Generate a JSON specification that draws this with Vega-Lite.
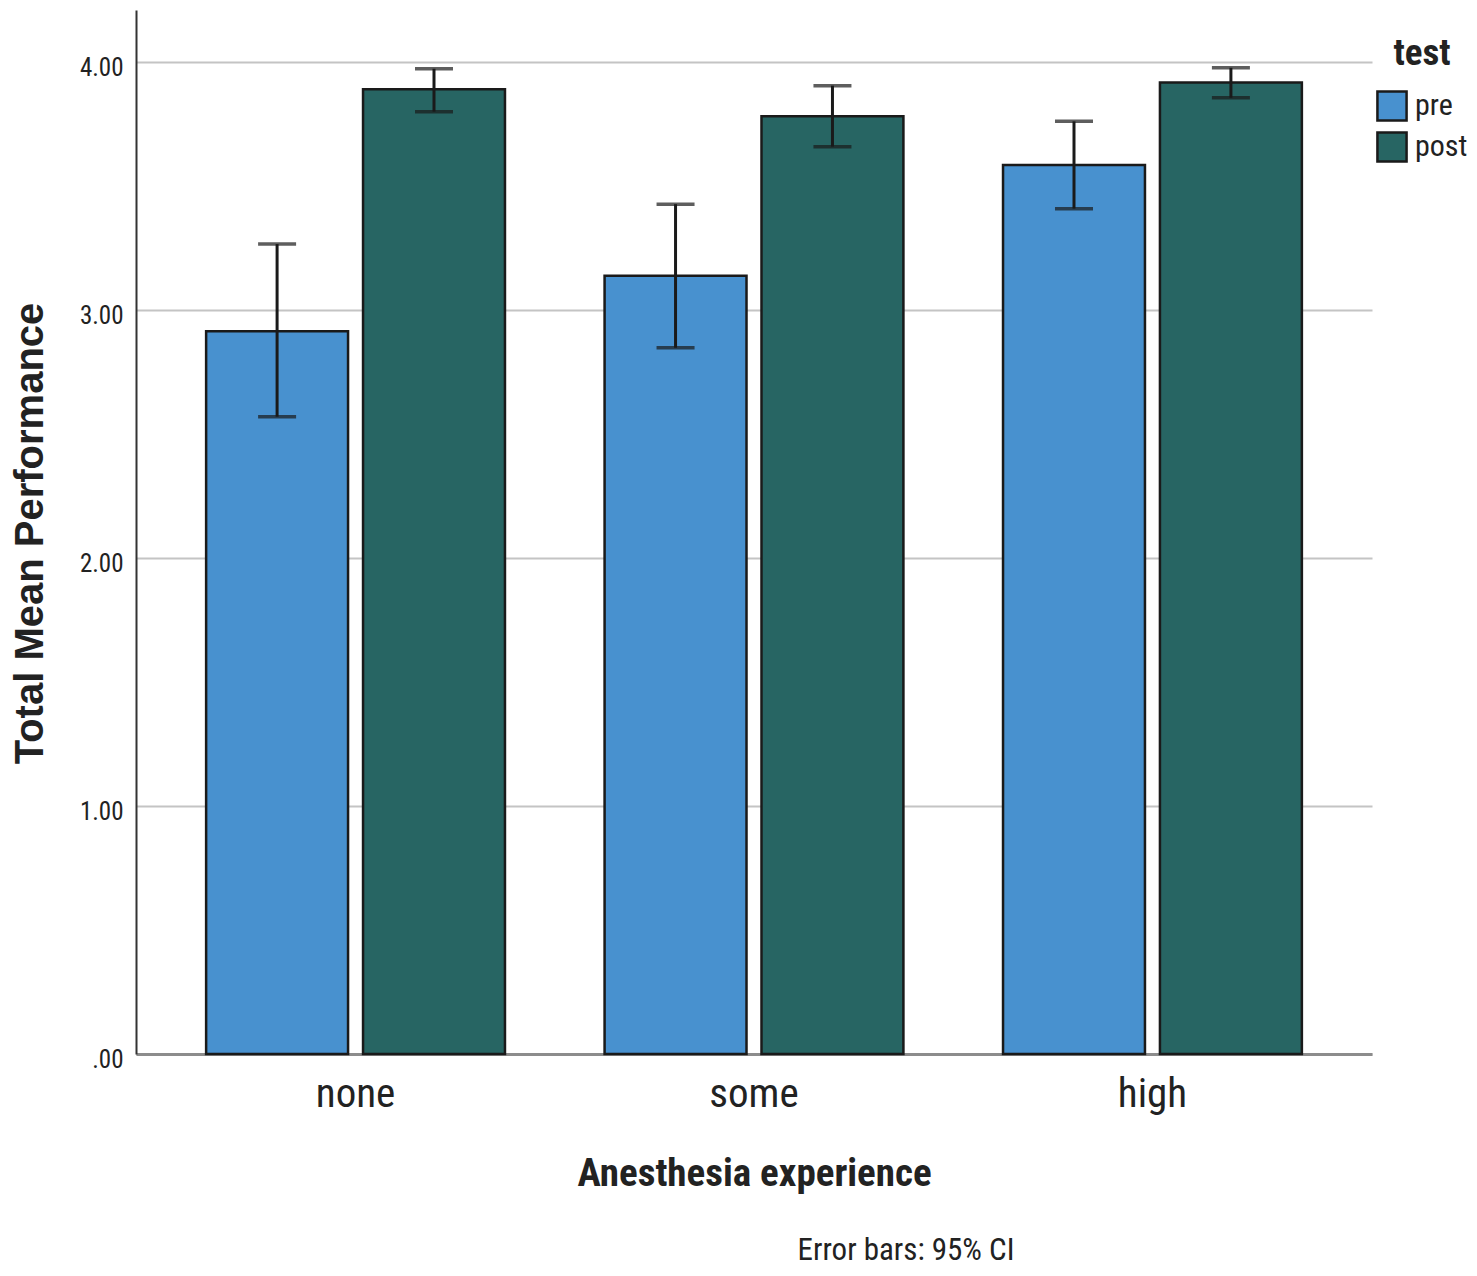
{
  "$schema": "https://vega.github.io/schema/vega-lite/v6.json",
  "autosize": {"type": "none"},
  "padding": {"left": 136, "top": 10, "right": 105, "bottom": 222},
  "width": 1236,
  "height": 1044,
  "background": "white",
  "data": {
    "values": [
      {"exp": "none", "test": "pre", "mean": 2.915, "lo": 2.570, "hi": 3.266},
      {"exp": "none", "test": "post", "mean": 3.890, "lo": 3.800, "hi": 3.973},
      {"exp": "some", "test": "pre", "mean": 3.138, "lo": 2.848, "hi": 3.427},
      {"exp": "some", "test": "post", "mean": 3.782, "lo": 3.659, "hi": 3.905},
      {"exp": "high", "test": "pre", "mean": 3.585, "lo": 3.409, "hi": 3.761},
      {"exp": "high", "test": "post", "mean": 3.918, "lo": 3.856, "hi": 3.977}
    ]
  },
  "title": {
    "text": "Error bars: 95% CI",
    "orient": "bottom",
    "frame": "group",
    "anchor": "middle",
    "dx": 152,
    "offset": 43,
    "font": "Liberation Sans Narrow, Roboto Condensed, Roboto",
    "fontSize": 31,
    "fontWeight": "normal",
    "color": "#222222"
  },
  "encoding": {
    "x": {
      "field": "exp",
      "type": "nominal",
      "sort": ["none", "some", "high"],
      "scale": {"paddingInner": 0.25, "paddingOuter": 0.176},
      "title": "Anesthesia experience",
      "axis": {
        "labelAngle": 0,
        "ticks": false,
        "tickSize": 0,
        "domainColor": "#8c8c8c",
        "domainWidth": 3,
        "labelFont": "Liberation Sans Narrow, Roboto Condensed, Roboto",
        "labelFontSize": 41,
        "labelColor": "#222222",
        "labelBaseline": "alphabetic",
        "labelPadding": 52,
        "titleFont": "Liberation Sans Narrow, Roboto Condensed, Roboto",
        "titleFontSize": 39,
        "titleFontWeight": "bold",
        "titleColor": "#222222",
        "titleBaseline": "alphabetic",
        "titleX": 618,
        "titleY": 131
      }
    },
    "xOffset": {
      "field": "test",
      "type": "nominal",
      "sort": ["pre", "post"],
      "scale": {"paddingInner": 0.0955, "paddingOuter": 0}
    }
  },
  "layer": [
    {
      "mark": {"type": "bar", "stroke": "#1a1a1a", "strokeWidth": 2.5},
      "encoding": {
        "y": {
          "field": "mean",
          "type": "quantitative",
          "scale": {"domain": [0, 4.21], "nice": false},
          "title": "Total Mean Performance",
          "axis": {
            "values": [0, 1, 2, 3, 4],
            "labelExpr": "datum.value == 0 ? '.00' : format(datum.value, '.2f')",
            "ticks": false,
            "domainColor": "#333333",
            "domainWidth": 2,
            "gridColor": "#c4c4c4",
            "gridWidth": 2,
            "labelFont": "Liberation Sans Narrow, Roboto Condensed, Roboto",
            "labelFontSize": 25,
            "labelColor": "#222222",
            "labelPadding": 13,
            "labelOffset": 5,
            "titleFont": "Liberation Sans",
            "titleFontSize": 40,
            "titleFontWeight": "bold",
            "titleColor": "#222222",
            "titleBaseline": "alphabetic",
            "titleAlign": "center",
            "titleAngle": -90,
            "titleX": -94,
            "titleY": 523
          }
        },
        "color": {
          "field": "test",
          "type": "nominal",
          "sort": ["pre", "post"],
          "scale": {"domain": ["pre", "post"], "range": ["#4891cf", "#276563"]},
          "legend": {
            "orient": "none",
            "legendX": 1240,
            "legendY": 26,
            "title": "test",
            "titleAnchor": "middle",
            "titleFont": "Liberation Sans Narrow, Roboto Condensed, Roboto",
            "titleFontSize": 37,
            "titleFontWeight": "bold",
            "titleColor": "#222222",
            "titlePadding": 17,
            "symbolType": "square",
            "symbolSize": 850,
            "symbolStrokeColor": "#1a1a1a",
            "symbolStrokeWidth": 2.5,
            "symbolOpacity": 1,
            "labelFont": "Liberation Sans Narrow, Roboto Condensed, Roboto",
            "labelFontSize": 30,
            "labelColor": "#222222",
            "labelOffset": 7,
            "rowPadding": 1
          }
        }
      }
    },
    {
      "mark": {"type": "rule", "color": "#1a1a1a", "strokeWidth": 3},
      "encoding": {
        "y": {"field": "lo", "type": "quantitative"},
        "y2": {"field": "hi"}
      }
    },
    {
      "mark": {"type": "tick", "color": "#1a1a1a", "thickness": 3.5, "size": 38},
      "encoding": {
        "y": {"field": "lo", "type": "quantitative"}
      }
    },
    {
      "mark": {"type": "tick", "color": "#1a1a1a", "thickness": 3.5, "size": 38},
      "encoding": {
        "y": {"field": "hi", "type": "quantitative"}
      }
    }
  ],
  "config": {
    "view": {"stroke": null},
    "axisX": {"grid": false},
    "axisY": {"grid": true}
  }
}
